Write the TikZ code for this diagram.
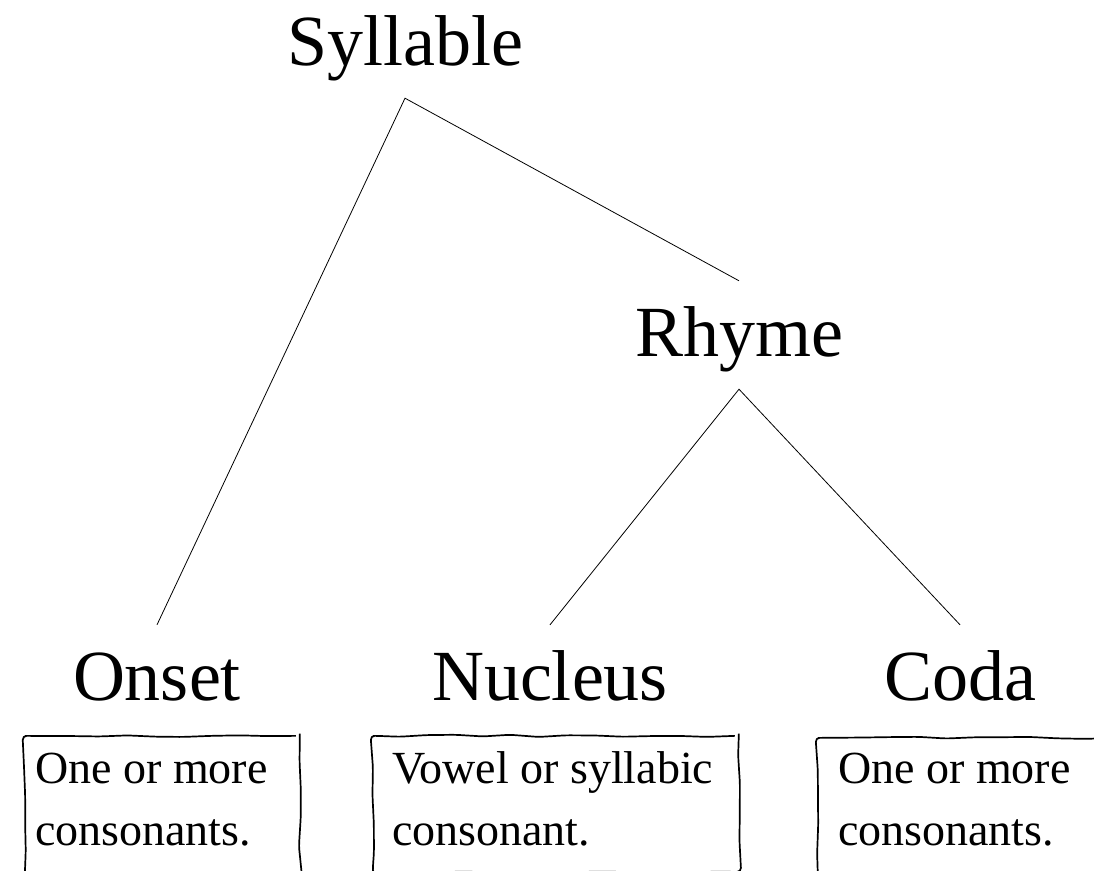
\documentclass[tikz,border=0pt]{standalone}
\usepackage{fontspec}
\setmainfont{Liberation Serif}
\usetikzlibrary{calc,decorations.pathmorphing}

\begin{document}
\begin{tikzpicture}[
    x=1pt, y=-1pt,
    % tree labels: fixed height/depth so the north and south anchors sit where the branches meet them
    label/.style={inner sep=0pt, anchor=base, text height=75pt, text depth=33pt,
                  font=\fontsize{72}{86}\selectfont},
    branch/.style={line width=0.8pt},
    % hand-drawn frame around the notes
    frame/.style={draw, line width=1.7pt, anchor=north west,
                  inner sep=0pt, decorate,
                  decoration={random steps, segment length=28pt, amplitude=1.1pt},
                  rounded corners=4pt},
    note/.style={inner sep=0pt, anchor=base west, align=left,
                 font=\fontsize{46}{62}\selectfont},
  ]
  \pgfmathsetseed{7}
  \useasboundingbox (0,0) rectangle (1094,870);
  \clip (0,0) rectangle (1094,870);

  % tree labels
  \node[label] (syl)  at (405,65)  {Syllable};
  \node[label] (rhy)  at (739,356) {Rhyme};
  \node[label] (ons)  at (157,700) {Onset};
  \node[label] (nuc)  at (550,700) {Nucleus};
  \node[label] (cod)  at (960,700) {Coda};

  % branches
  \draw[branch] (ons.north) -- (syl.south) -- (rhy.north);
  \draw[branch] (nuc.north) -- (rhy.south) -- (cod.north);

  % note frames
  \node[frame, minimum width=275pt, minimum height=142pt] (ons-box) at (24,735) {};
  \node[frame, minimum width=366pt, minimum height=136pt] (nuc-box) at (372,735) {};
  \node[frame, minimum width=300pt, minimum height=142pt] (cod-box) at (817,737) {};

  % notes (the base anchor of a two-line note is the baseline of its last line)
  \node[note] (ons-note) at ($(ons-box.north west)+(11,110)$) {One or more\\consonants.};
  \node[note] (nuc-note) at ($(nuc-box.north west)+(20,110)$) {Vowel or syllabic\\consonant.};
  \node[note] (cod-note) at ($(cod-box.north west)+(21,108)$) {One or more\\consonants.};
\end{tikzpicture}
\end{document}
